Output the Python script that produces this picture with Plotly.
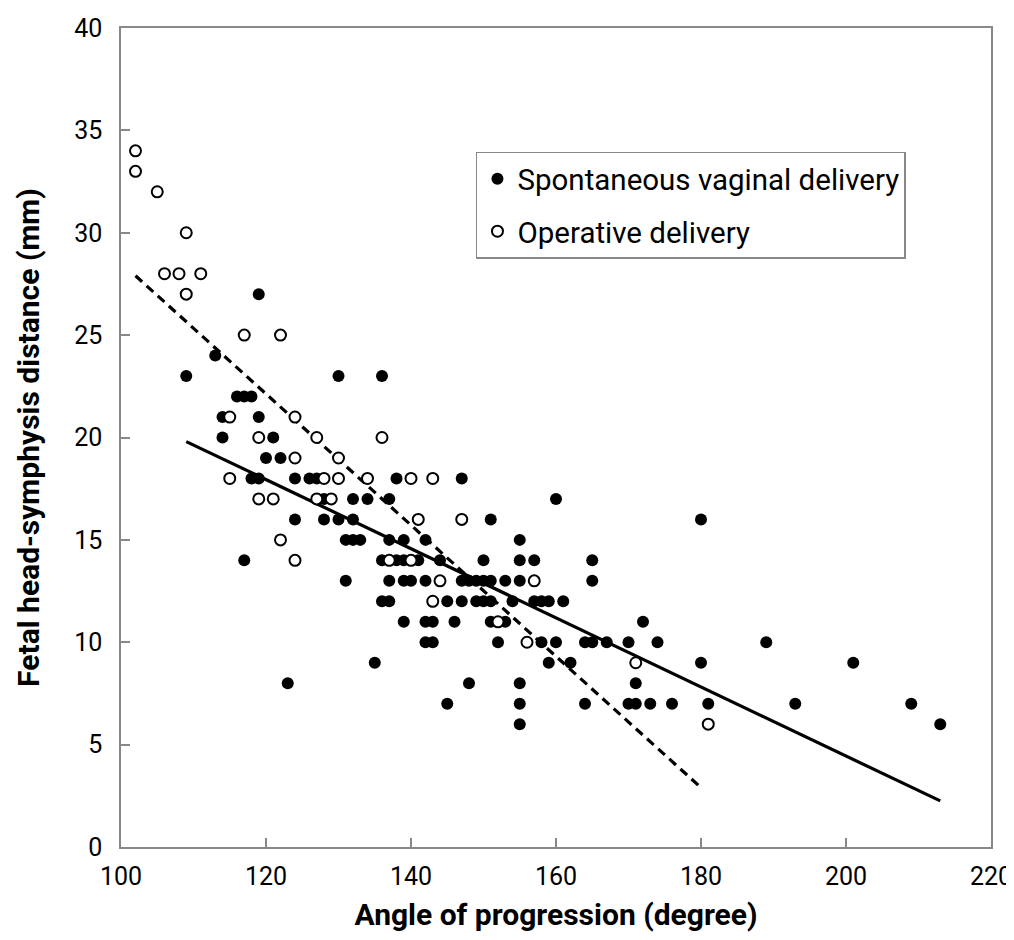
import plotly.graph_objects as go

# Spontaneous vaginal delivery (filled)
spont_x = [119, 113, 109, 130, 136, 116, 117, 118,
           114, 119, 114, 121, 120, 122,
           118, 119, 124, 126, 127, 138, 147,
           128, 132, 134, 137, 160,
           124, 128, 130, 132, 151, 180,
           131, 132, 133, 137, 139, 142, 155,
           117, 136, 138, 139, 141, 144, 150, 155, 157, 165,
           131, 137, 139, 140, 142, 147, 148, 149, 150, 151, 153, 155, 165,
           136, 137, 145, 147, 149, 150, 151, 154, 157, 158, 159, 161,
           139, 142, 143, 146, 151, 153, 172,
           142, 143, 152, 158, 160, 164, 165, 167, 170, 174, 189,
           135, 159, 162, 180, 201,
           123, 148, 155, 171,
           145, 155, 164, 170, 171, 173, 176, 181, 193, 209,
           155, 213]
spont_y = [27, 24, 23, 23, 23, 22, 22, 22,
           21, 21, 20, 20, 19, 19,
           18, 18, 18, 18, 18, 18, 18,
           17, 17, 17, 17, 17,
           16, 16, 16, 16, 16, 16,
           15, 15, 15, 15, 15, 15, 15,
           14, 14, 14, 14, 14, 14, 14, 14, 14, 14,
           13, 13, 13, 13, 13, 13, 13, 13, 13, 13, 13, 13, 13,
           12, 12, 12, 12, 12, 12, 12, 12, 12, 12, 12, 12,
           11, 11, 11, 11, 11, 11, 11,
           10, 10, 10, 10, 10, 10, 10, 10, 10, 10, 10,
           9, 9, 9, 9, 9,
           8, 8, 8, 8,
           7, 7, 7, 7, 7, 7, 7, 7, 7, 7,
           6, 6]

# Operative delivery (open)
oper_x = [102, 102, 105, 109, 106, 108, 111, 109, 117, 122,
          115, 124, 119, 127, 136, 124, 130,
          115, 128, 130, 134, 140, 143,
          119, 121, 127, 129, 141, 147, 122,
          124, 137, 140, 144, 157, 143, 152, 156, 171, 181]
oper_y = [34, 33, 32, 30, 28, 28, 28, 27, 25, 25,
          21, 21, 20, 20, 20, 19, 19,
          18, 18, 18, 18, 18, 18,
          17, 17, 17, 17, 16, 16, 15,
          14, 14, 14, 13, 13, 12, 11, 10, 9, 6]

# Regression lines (end points)
spont_fit_x = [109, 213]
spont_fit_y = [19.8, 2.25]
oper_fit_x = [102, 180]
oper_fit_y = [27.9, 2.9]

FONT = "Roboto, Open Sans, sans-serif"

fig = go.Figure()
fig.add_trace(go.Scatter(x=spont_fit_x, y=spont_fit_y, mode="lines",
                         line=dict(color="black", width=3.2),
                         showlegend=False, hoverinfo="skip"))
fig.add_trace(go.Scatter(x=oper_fit_x, y=oper_fit_y, mode="lines",
                         line=dict(color="black", width=3.2, dash="9px,6px"),
                         showlegend=False, hoverinfo="skip"))
fig.add_trace(go.Scatter(x=spont_x, y=spont_y, mode="markers",
                         name="Spontaneous vaginal delivery",
                         legendgroup="a",
                         marker=dict(symbol="circle", size=12, color="black",
                                     line=dict(color="black", width=0))))
fig.add_trace(go.Scatter(x=oper_x, y=oper_y, mode="markers",
                         name="Operative delivery",
                         legendgroup="b",
                         marker=dict(symbol="circle", size=11, color="white",
                                     line=dict(color="black", width=2))))

fig.update_layout(
    width=1014, height=940,
    margin=dict(l=113, r=31, t=20, b=101, autoexpand=False),
    paper_bgcolor="white", plot_bgcolor="white",
    font=dict(family=FONT, color="black", size=24),
    showlegend=True,
    legend=dict(x=0.408, y=0.849, xanchor="left", yanchor="top",
                bgcolor="white", bordercolor="#888888", borderwidth=1.5,
                font=dict(family=FONT, size=29.5, color="black"),
                traceorder="grouped", tracegroupgap=11,
                itemsizing="trace"),
    xaxis=dict(range=[100, 220], tickmode="linear", tick0=100, dtick=20,
               ticks="inside", ticklen=9, tickcolor="#888888", tickwidth=1.5,
               showline=True, linecolor="#888888", linewidth=1.5, mirror=True,
               showgrid=False, zeroline=False, automargin=False,
               ticklabelstandoff=6, ticklabeloverflow="allow",
               tickfont=dict(family=FONT, size=25),
               title=dict(text="<b>Angle of progression (degree)</b>",
                          font=dict(family=FONT, size=30), standoff=14)),
    yaxis=dict(range=[0, 40], tickmode="linear", tick0=0, dtick=5,
               ticks="inside", ticklen=9, tickcolor="#888888", tickwidth=1.5,
               showline=True, linecolor="#888888", linewidth=1.5, mirror=True,
               showgrid=False, zeroline=False, automargin=False,
               ticklabelstandoff=12, ticklabeloverflow="allow",
               tickfont=dict(family=FONT, size=25),
               title=dict(text="<b>Fetal head-symphysis distance (mm)</b>",
                          font=dict(family=FONT, size=30), standoff=26)),
)

fig.write_html("out.html")
